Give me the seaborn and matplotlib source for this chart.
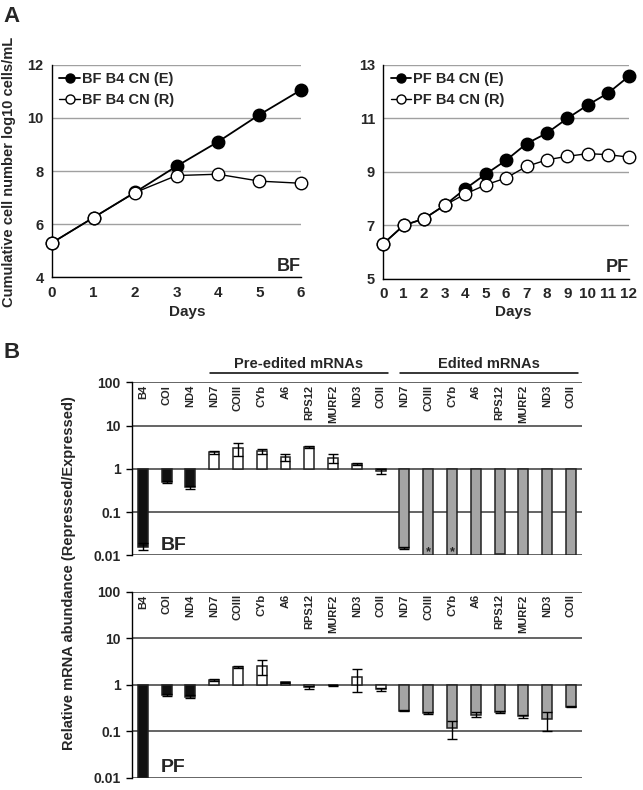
import numpy as np
import matplotlib
matplotlib.use("Agg")
import matplotlib.pyplot as plt
import seaborn as sns
from matplotlib.legend_handler import HandlerLine2D
from matplotlib.transforms import blended_transform_factory

# ---------------------------------------------------------------
# Panel A: cumulative growth (log10 cells/mL)
# ---------------------------------------------------------------
bf_days = [0, 1, 2, 3, 4, 5, 6]
bf_expressed = [5.3, 6.25, 7.2, 8.18, 9.1, 10.12, 11.05]
bf_repressed = [5.3, 6.25, 7.19, 7.83, 7.88, 7.62, 7.54]

pf_days = [0, 1, 2, 3, 4, 5, 6, 7, 8, 9, 10, 11, 12]
pf_expressed = [6.31, 7.0, 7.25, 7.75, 8.36, 8.91, 9.43, 10.05, 10.45, 11.0, 11.5, 11.95, 12.57]
pf_repressed = [6.31, 7.0, 7.25, 7.75, 8.17, 8.51, 8.77, 9.2, 9.45, 9.58, 9.68, 9.64, 9.55]

# ---------------------------------------------------------------
# Panel B: relative mRNA abundance (repressed / expressed)
# ---------------------------------------------------------------
genes = ["B4", "COI", "ND4",
         "ND7", "COIII", "CYb", "A6", "RPS12", "MURF2", "ND3", "COII",
         "ND7", "COIII", "CYb", "A6", "RPS12", "MURF2", "ND3", "COII"]
gene_group = ["control"] * 3 + ["pre"] * 8 + ["edited"] * 8

bf_ratio = [0.016, 0.50, 0.38, 2.4, 3.0, 2.6, 1.85, 3.2, 1.8, 1.3, 0.87,
            0.015, 0.01, 0.01, 0.01, 0.0105, 0.01, 0.01, 0.01]
bf_sd = [0.003, 0.03, 0.03, 0.2, 1.0, 0.35, 0.3, 0.15, 0.4, 0.08, 0.1,
         0.001, 0, 0, 0, 0, 0, 0, 0]
bf_star = ["", "", "", "", "", "", "", "", "", "", "",
           "", "*", "*", "", "", "", "", ""]

pf_ratio = [0.01, 0.61, 0.56, 1.25, 2.4, 2.5, 1.12, 0.88, 0.97, 1.45, 0.8,
            0.28, 0.25, 0.12, 0.23, 0.26, 0.21, 0.18, 0.34]
pf_sd = [0, 0.03, 0.04, 0.05, 0.15, 0.85, 0.04, 0.05, 0.02, 0.75, 0.05,
         0.01, 0.015, 0.05, 0.03, 0.01, 0.02, 0.08, 0.01]

group_colors = {"control": "#111111", "pre": "white", "edited": "#a5a5a5"}

# ---------------------------------------------------------------
sns.set_style("white")
plt.rcParams["font.family"] = ["Liberation Sans", "DejaVu Sans"]
plt.rcParams["font.weight"] = "bold"

fig = plt.figure(figsize=(6.43, 7.9), dpi=100)


class MarkerRight(HandlerLine2D):
    # short line with the marker sitting against the label
    def get_xdata(self, legend, xdescent, ydescent, width, height, fontsize):
        xdata = np.array([-xdescent, -xdescent + width])
        return xdata, np.array([-xdescent + width - 3.5])


def growth_panel(ax, days, expressed, repressed, tag, yticks, xmax):
    sns.lineplot(x=days, y=expressed, ax=ax, color="black", lw=1.3,
                 marker="o", markersize=9, markerfacecolor="black",
                 markeredgecolor="black", markeredgewidth=1,
                 label=f"{tag} B4 CN (E)", clip_on=False, zorder=3)
    sns.lineplot(x=days, y=repressed, ax=ax, color="black", lw=1.0,
                 marker="o", markersize=9, markerfacecolor="white",
                 markeredgecolor="black", markeredgewidth=1,
                 label=f"{tag} B4 CN (R)", clip_on=False, zorder=4)
    ax.set_xlim(0, xmax)
    ax.set_ylim(yticks[0], yticks[-1])
    ax.set_yticks(yticks)
    ax.set_xticks(days)
    ax.yaxis.grid(True, color="#a0a0a0", lw=1)
    ax.set_axisbelow(True)
    for s in ["top", "right"]:
        ax.spines[s].set_visible(False)
    for s in ["left", "bottom"]:
        ax.spines[s].set_color("black")
        ax.spines[s].set_linewidth(1)
    ax.tick_params(axis="both", direction="out", length=4, width=1,
                   labelsize=10.5, pad=2, color="black")
    ax.tick_params(axis="x", labelsize=11)
    ax.set_xlabel("")
    ax.set_ylabel("")
    ax.legend(loc="upper left", bbox_to_anchor=(0.0, 1.0), frameon=False,
              fontsize=10.5, handlelength=1.4, handletextpad=0.15,
              labelspacing=0.45, borderpad=0.3, borderaxespad=0.2,
              markerscale=0.72, handler_map={plt.Line2D: MarkerRight()})
    ax.text(1.0, 0.03, tag, transform=ax.transAxes, ha="right",
            va="baseline", fontsize=13, fontweight="bold")


ax_a1 = fig.add_axes([0.081, 0.649, 0.387, 0.269])
growth_panel(ax_a1, bf_days, bf_expressed, bf_repressed, "BF",
             [4, 6, 8, 10, 12], 6)
ax_a2 = fig.add_axes([0.596, 0.647, 0.382, 0.271])
growth_panel(ax_a2, pf_days, pf_expressed, pf_repressed, "PF",
             [5, 7, 9, 11, 13], 12)

fig.text(0.185 + 0.106, 0.605, "Days", ha="center", va="center", fontsize=11)
fig.text(0.798, 0.605, "Days", ha="center", va="center", fontsize=11)
fig.text(0.014, 0.783, "Cumulative cell number log10 cells/mL", rotation=90,
         ha="center", va="center", fontsize=10.5)


def abundance_panel(ax, ratio, sd, tag, star=None, headers=False):
    x = np.arange(len(genes))
    ratio = np.array(ratio)
    sd = np.array(sd)
    colors = [group_colors[g] for g in gene_group]
    ax.set_yscale("log")
    for v in [0.01, 0.1, 1, 10, 100]:
        ax.axhline(v, color="#3a3a3a", lw=1.1, zorder=1)
    ax.bar(x, ratio - 1, bottom=1, width=0.42, color=colors,
           edgecolor="#222222", linewidth=1.1, zorder=3)
    m = sd > 0
    ax.errorbar(x[m], ratio[m], yerr=sd[m], fmt="none", ecolor="black",
                elinewidth=1, capsize=3.5, capthick=1, zorder=4)
    ax.set_xlim(-0.46, len(genes) - 0.54)
    ax.set_ylim(0.01, 100)
    ax.set_yticks([0.01, 0.1, 1, 10, 100])
    ax.set_yticklabels(["0.01", "0.1", "1", "10", "100"])
    ax.minorticks_off()
    ax.set_xticks([])
    for s in ["top", "right", "bottom"]:
        ax.spines[s].set_visible(False)
    ax.spines["left"].set_color("black")
    ax.spines["left"].set_linewidth(1)
    ax.tick_params(axis="y", direction="out", length=4, width=1,
                   labelsize=10, pad=4, color="black", left=True)
    trans = blended_transform_factory(ax.transData, ax.transAxes)
    for xi, g in zip(x, genes):
        ax.text(xi, 0.985, g, rotation=90, ha="center", va="top",
                fontsize=8, fontweight="bold", transform=trans)
    if star is not None:
        for xi, s in zip(x, star):
            if s:
                ax.text(xi, 0.0118, s, ha="center", va="center",
                        fontsize=9, color="#222222", zorder=5)
    ax.text(0.065, 0.03, tag, transform=ax.transAxes, ha="left",
            va="baseline", fontsize=14, fontweight="bold")
    if headers:
        for x0, x1, label in [(2.83, 10.3, "Pre-edited mRNAs"),
                              (10.8, 18.3, "Edited mRNAs")]:
            ax.plot([x0, x1], [1.052, 1.052], color="black", lw=1.1,
                    transform=trans, clip_on=False)
            ax.text((x0 + x1) / 2, 1.082, label, ha="center", va="baseline",
                    fontsize=10.5, fontweight="bold", transform=trans)


ax_bf = fig.add_axes([0.205, 0.297, 0.700, 0.219])
abundance_panel(ax_bf, bf_ratio, bf_sd, "BF", star=bf_star, headers=True)
ax_pf = fig.add_axes([0.205, 0.0152, 0.700, 0.236])
abundance_panel(ax_pf, pf_ratio, pf_sd, "PF")

fig.text(0.107, 0.275, "Relative mRNA abundance (Repressed/Expressed)",
         rotation=90, ha="center", va="center", fontsize=10.5)

fig.text(0.006, 0.972, "A", fontsize=16, fontweight="bold", va="baseline")
fig.text(0.006, 0.547, "B", fontsize=16, fontweight="bold", va="baseline")

fig.savefig("out.png", dpi=100)
